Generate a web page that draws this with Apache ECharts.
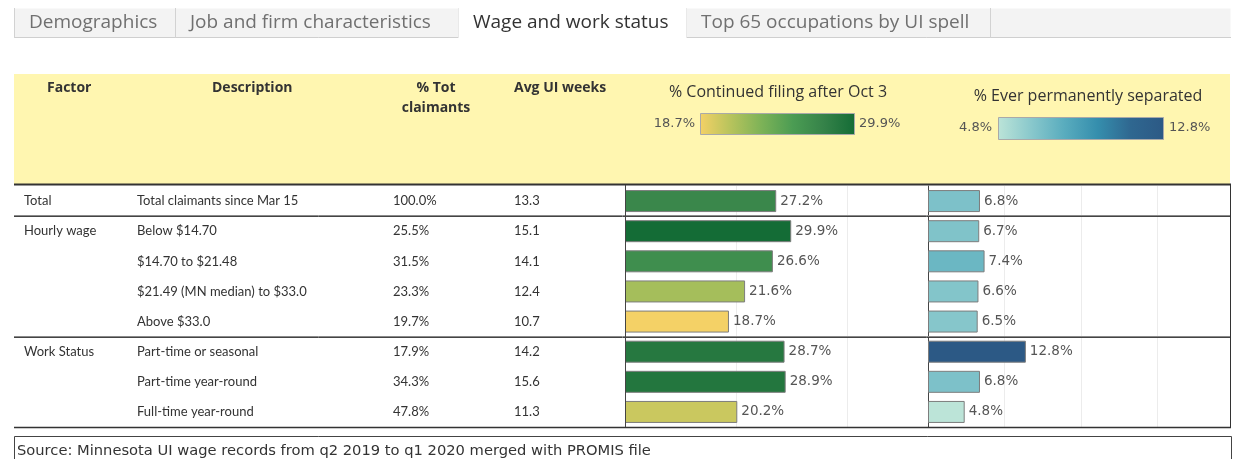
<!DOCTYPE html>
<html>
<head>
<meta charset="utf-8">
<title>Wage and work status</title>
<script src="https://cdn.jsdelivr.net/npm/echarts@6/dist/echarts.min.js"></script>
<style>
  html, body { margin: 0; padding: 0; background: #fff; }
  #main { width: 1243px; height: 459px; }
</style>
</head>
<body>
<div id="main"></div>
<script>
// 数据
var tabs = ['Demographics', 'Job and firm characteristics', 'Wage and work status', 'Top 65 occupations by UI spell'];
var activeTab = 2;
var headers = ['Factor', 'Description', '% Tot\nclaimants', 'Avg UI weeks'];
var factors = ['Total', 'Hourly wage', '', '', '', 'Work Status', '', ''];
var descriptions = ['Total claimants since Mar 15', 'Below $14.70', '$14.70 to $21.48', '$21.49 (MN median) to $33.0',
  'Above $33.0', 'Part-time or seasonal', 'Part-time year-round', 'Full-time year-round'];
var pctClaimants = [100.0, 25.5, 31.5, 23.3, 19.7, 17.9, 34.3, 47.8];
var avgWeeks = [13.3, 15.1, 14.1, 12.4, 10.7, 14.2, 15.6, 11.3];
var continuedFiling = [27.2, 29.9, 26.6, 21.6, 18.7, 28.7, 28.9, 20.2];
var permSeparated = [6.8, 6.7, 7.4, 6.6, 6.5, 12.8, 6.8, 4.8];
var groupEnds = [0, 4];   // 每组最后一行的索引
var filingTitle = '% Continued filing after Oct 3';
var separatedTitle = '% Ever permanently separated';
var filingRange = [18.7, 29.9];
var separatedRange = [4.8, 12.8];
var filingColors = ['#f4d166', '#b6c35c', '#7cb257', '#4b9c53', '#358249', '#146c36'];
var separatedColors = ['#bce4d8', '#89c8cc', '#59acbe', '#358ead', '#2f6790', '#2c5985'];
var sourceNote = 'Source: Minnesota UI wage records from q2 2019 to q1 2020 merged with PROMIS file';

(function () {
  var myChart = echarts.init(document.getElementById('main'), null, { renderer: 'canvas' });
  var rowKeys = descriptions.map(function (d, i) { return 'r' + i; });
  var textFont = 'Lato, "Noto Sans", sans-serif';
  var wideFont = '"Open Sans", "Noto Sans", sans-serif';
  var numFont = '"DejaVu Sans", Verdana, sans-serif';
  var gridTop = 186, gridHeight = 241;

  function barSeries(values, idx) {
    return {
      type: 'bar',
      xAxisIndex: idx,
      yAxisIndex: idx,
      data: values.map(function (v, i) { return [v, i]; }),
      encode: { x: 0, y: 1 },
      barWidth: 22,
      itemStyle: { borderColor: '#7d7d7d', borderWidth: 1 },
      label: {
        show: true,
        position: 'right',
        distance: 4,
        color: '#555',
        fontFamily: numFont,
        fontSize: 13.5,
        formatter: function (p) { return p.value[0].toFixed(1) + '%'; }
      },
      silent: true
    };
  }

  function valueAxis(idx, max, interval) {
    return {
      type: 'value', gridIndex: idx, min: 0, max: max, interval: interval,
      axisLine: { show: false }, axisTick: { show: false }, axisLabel: { show: false },
      splitLine: { lineStyle: { color: '#ececec', width: 1 } }
    };
  }

  function catAxis(idx) {
    return {
      type: 'category', gridIndex: idx, data: rowKeys, inverse: true,
      axisLine: { lineStyle: { color: '#444', width: 1 } },
      axisTick: { show: false }, axisLabel: { show: false }
    };
  }

  var option = {
    animation: false,
    grid: [
      { left: 625, top: gridTop, width: 303, height: gridHeight },
      { left: 928, top: gridTop, width: 302, height: gridHeight }
    ],
    xAxis: [valueAxis(0, 54.5, 20), valueAxis(1, 39.5, 10)],
    yAxis: [catAxis(0), catAxis(1)],
    visualMap: [
      { type: 'continuous', show: false, seriesIndex: 0, dimension: 0,
        min: filingRange[0], max: filingRange[1], inRange: { color: filingColors } },
      { type: 'continuous', show: false, seriesIndex: 1, dimension: 0,
        min: separatedRange[0], max: separatedRange[1], inRange: { color: separatedColors } }
    ],
    series: [barSeries(continuedFiling, 0), barSeries(permSeparated, 1)]
  };
  myChart.setOption(option);

  // 表格文字、线条和图例
  var g = [];
  function text(x, y, str, o) {
    o = o || {};
    g.push({
      type: 'text', x: x, y: y, silent: true, z: o.z || 10,
      style: {
        text: str, fill: o.color || '#333', font: (o.weight || 'normal') + ' ' + (o.size || 12.5) + 'px ' + (o.family || textFont),
        textAlign: o.align || 'left', textVerticalAlign: 'middle', lineHeight: o.lineHeight || 20
      }
    });
  }
  function line(x1, y1, x2, y2, color, w) {
    g.push({ type: 'line', silent: true, z: 20, shape: { x1: x1, y1: y1, x2: x2, y2: y2 }, style: { stroke: color, lineWidth: w } });
  }
  function rect(x, y, w, h, fill, stroke, z) {
    g.push({ type: 'rect', silent: true, z: z || 1, shape: { x: x, y: y, width: w, height: h },
      style: { fill: fill, stroke: stroke || null, lineWidth: 1 } });
  }

  // 标签页
  var tabEdges = [14, 175, 458, 686, 990];
  rect(14.5, 8.5, 1216, 29, '#f3f3f3', null, 0);
  line(14, 37.5, 1231, 37.5, '#cfcfcf', 1);
  rect(tabEdges[activeTab] + 0.5, 7.5, tabEdges[activeTab + 1] - tabEdges[activeTab], 31, '#fff', null, 25);
  tabEdges.forEach(function (x) { line(x + 0.5, 8, x + 0.5, 38, '#d2d2d2', 1); });
  tabs.forEach(function (t, i) {
    text(tabEdges[i] + 15, 22.5, t, {
      size: 19, family: wideFont, color: i === activeTab ? '#333' : '#707070', z: 30
    });
  });

  // 表头
  rect(14, 74, 1216, 110, '#fff6b0', null, 0);
  text(47, 88, headers[0], { weight: 'bold', size: 14, family: wideFont });
  text(212, 88, headers[1], { weight: 'bold', size: 14, family: wideFont });
  text(436, 98, headers[2], { weight: 'bold', size: 14, family: wideFont, align: 'center', lineHeight: 20 });
  text(514, 88, headers[3], { weight: 'bold', size: 14, family: wideFont });

  // 图例
  function legend(cx, ty, title, titleSize, x, y, w, h, range, colors, labelGap) {
    text(cx, ty, title, { size: titleSize, family: wideFont, align: 'center', color: '#333' });
    g.push({
      type: 'rect', silent: true, z: 5, shape: { x: x + 0.5, y: y + 0.5, width: w, height: h },
      style: {
        stroke: '#a9a9a9', lineWidth: 1,
        fill: new echarts.graphic.LinearGradient(0, 0, 1, 0, colors.map(function (c, i) {
          return { offset: i / (colors.length - 1), color: c };
        }))
      }
    });
    text(x - labelGap, y + h / 2, range[0].toFixed(1) + '%', { align: 'right', family: numFont, size: 13, color: '#555' });
    text(x + w + labelGap, y + h / 2, range[1].toFixed(1) + '%', { family: numFont, size: 13, color: '#555' });
  }
  legend(778, 92, filingTitle, 16, 700, 113, 154, 21, filingRange, filingColors, 5);
  legend(1088, 96, separatedTitle, 16, 998, 117, 165, 22, separatedRange, separatedColors, 6);

  // 数据行
  var ys = rowKeys.map(function (k, i) { return myChart.convertToPixel({ yAxisIndex: 0 }, i); });
  ys.forEach(function (y, i) {
    if (factors[i]) text(24, y, factors[i], { size: 13 });
    text(137, y, descriptions[i], { size: 13 });
    text(393, y, pctClaimants[i].toFixed(1) + '%', { size: 13 });
    text(514, y, avgWeeks[i].toFixed(1), { size: 13 });
  });

  // 分隔线
  var bottom = gridTop + gridHeight;
  line(14, gridTop - 1.5, 1231, gridTop - 1.5, '#333', 2);
  groupEnds.forEach(function (i) {
    var yb = Math.round((ys[i] + ys[i + 1]) / 2) + 0.5;
    line(14, yb - 1, 1231, yb - 1, '#8a8a8a', 1);
    line(14, yb, 1231, yb, '#444', 1);
  });
  line(14, bottom + 0.5, 1231, bottom + 0.5, '#333', 1.5);
  line(1230.5, gridTop - 1, 1230.5, bottom, '#333', 1);
  line(625.5, gridTop - 1, 625.5, bottom, '#444', 1);

  // 来源
  rect(14.5, 436.5, 1217, 30, '#fff', '#444', 1);
  text(17, 451, sourceNote, { family: numFont, size: 14.7, color: '#333' });

  myChart.setOption({ graphic: g });

  window.addEventListener('resize', function () {
    myChart.resize();
  });
})();
</script>
</body>
</html>
